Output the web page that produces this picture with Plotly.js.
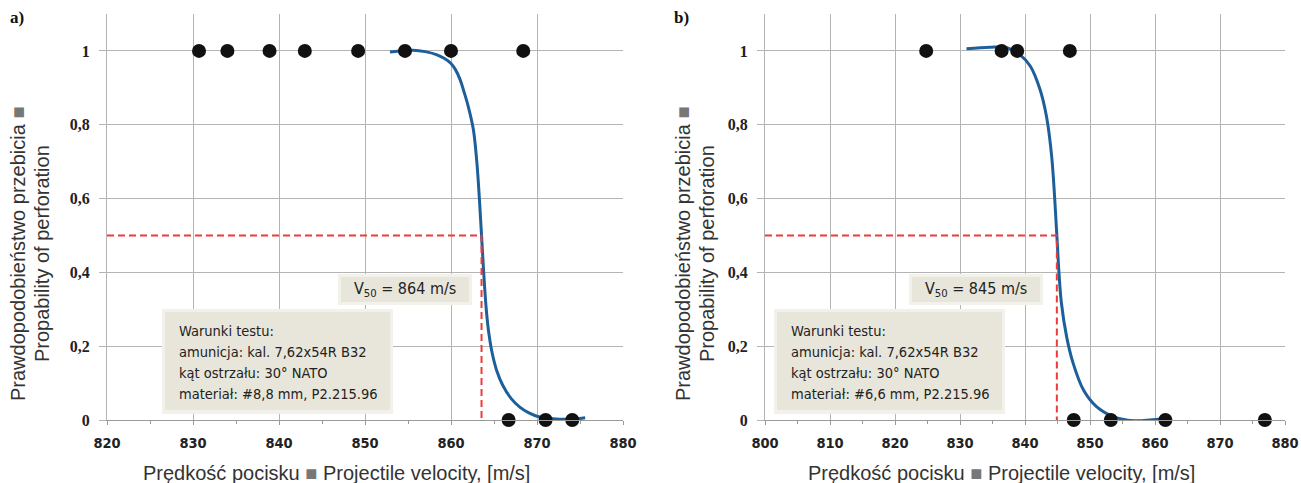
<!DOCTYPE html>
<html>
<head>
<meta charset="utf-8">
<script src="https://cdn.plot.ly/plotly-3.0.1.min.js"></script>
<style>html,body{margin:0;padding:0;background:#fff;}#chart{width:1301px;height:483px;}</style>
</head>
<body>
<div id="chart"></div>
<script>
// ---- Panel a) data ----
const hitsAx = [830.7, 834.0, 838.9, 843.0, 849.2, 854.65, 860.0, 868.4];
const hitsAy = [1, 1, 1, 1, 1, 1, 1, 1];
const missAx = [866.7, 871.0, 874.1];
const missAy = [0, 0, 0];
const curveAx = [852.9, 854.0, 855.6, 857.0, 858.3, 859.2, 860.0, 860.5, 861.05, 861.5, 862.0, 862.6, 863.0, 863.3, 863.55, 863.8, 864.1, 864.4, 864.8, 865.3, 866.0, 867.0, 868.0, 869.0, 870.3, 872.6, 874.5, 875.6];
const curveAy = [0.997, 1.0, 1.002, 0.998, 0.99, 0.98, 0.966, 0.95, 0.923, 0.89, 0.85, 0.787, 0.70, 0.60, 0.50, 0.40, 0.30, 0.235, 0.18, 0.135, 0.095, 0.058, 0.035, 0.02, 0.008, 0.002, 0.003, 0.006];
const v50A = 863.55;
const v50LabelA = "V<sub>50</sub> = 864 m/s";
const condA = ["Warunki testu:", "amunicja: kal. 7,62x54R B32", "kąt ostrzału: 30° NATO", "materiał: #8,8 mm, P2.215.96"];

// ---- Panel b) data ----
const hitsBx = [824.8, 836.4, 838.8, 846.9];
const hitsBy = [1, 1, 1, 1];
const missBx = [847.5, 853.2, 861.6, 876.9];
const missBy = [0, 0, 0, 0];
const curveBx = [831.0, 834.6, 837.2, 839.2, 840.8, 842.3, 843.3, 844.1, 844.9, 845.2, 845.6, 846.4, 847.4, 849.0, 851.0, 853.6, 856.7, 859.2, 861.5];
const curveBy = [1.006, 1.01, 1.009, 0.99, 0.959, 0.896, 0.823, 0.715, 0.50, 0.407, 0.317, 0.226, 0.154, 0.081, 0.036, 0.009, -0.002, 0.0, 0.005];
const v50B = 844.9;
const v50LabelB = "V<sub>50</sub> = 845 m/s";
const condB = ["Warunki testu:", "amunicja: kal. 7,62x54R B32", "kąt ostrzału: 30° NATO", "materiał: #6,6 mm, P2.215.96"];

// ---- axes / labels ----
const rangeA = [820, 880];
const rangeB = [800, 880];
const yTicks = [0, 0.2, 0.4, 0.6, 0.8, 1];
const xTitle = "Prędkość pocisku <span style='color:#777'>■</span> Projectile velocity, [m/s]";
const yTitle1 = "Prawdopodobieństwo przebicia <span style='color:#777'>■</span>";
const yTitle2 = "Propability of perforation";

const W = 1301, H = 483;
const px = v => v / W, py = v => 1 - v / H;

const narrow = "DejaVu Sans Condensed, Liberation Sans Narrow, Arial Narrow, sans-serif";
const sans = "Liberation Sans, Arial, sans-serif";
const curveColor = "#1d5f9a";
const red = "#f03a3a";
const boxFill = "#e8e6da";
const boxHalo = "#f2f1ea";

function panel(xa, ya, hx, hy, mx, my, cx, cy, v50, xmin) {
  return [
    {x: cx, y: cy, xaxis: xa, yaxis: ya, type: "scatter", mode: "lines",
     line: {color: curveColor, width: 3, shape: "spline", smoothing: 1}, hoverinfo: "skip"},
    {x: [xmin, v50, v50], y: [0.5, 0.5, 0], xaxis: xa, yaxis: ya, type: "scatter", mode: "lines",
     line: {color: red, width: 2, dash: "7px,4px"}, hoverinfo: "skip"},
    {x: hx.concat(mx), y: hy.concat(my), xaxis: xa, yaxis: ya, type: "scatter", mode: "markers",
     marker: {color: "#111", size: 14}, cliponaxis: false}
  ];
}

const data = [].concat(
  panel("x", "y", hitsAx, hitsAy, missAx, missAy, curveAx, curveAy, v50A, rangeA[0]),
  panel("x2", "y2", hitsBx, hitsBy, missBx, missBy, curveBx, curveBy, v50B, rangeB[0])
);

const gridC = "#b4b4b4";
function xaxis(range, dom, anchor) {
  return {range: range, domain: dom, anchor: anchor, dtick: 10, tick0: 800, showgrid: true, gridcolor: gridC, gridwidth: 1,
    zeroline: false, showline: true, linecolor: "#9a9a9a", linewidth: 1,
    ticks: "outside", ticklen: 4, tickcolor: "#9a9a9a", ticklabelstandoff: 6,
    minor: {dtick: 5, ticks: "outside", ticklen: 3, tickcolor: "#9a9a9a", showgrid: false},
    tickfont: {family: narrow, size: 14.5, color: "#222", weight: "bold"}, fixedrange: true};
}
function yaxis(anchor) {
  return {range: [0, 1.1], domain: [py(420), py(14)], tickvals: yTicks, showgrid: true, gridcolor: gridC,
    zeroline: false, showline: true, linecolor: gridC, anchor: anchor,
    ticks: "outside", ticklen: 7, tickcolor: gridC, ticklabelstandoff: 6,
    tickfont: {family: "Liberation Serif, DejaVu Serif, serif", size: 16, color: "#222", weight: "bold"}, fixedrange: true};
}

const shapes = [];
const annotations = [];
function rect(x0, y0, x1, y1, fill) {
  shapes.push({type: "rect", xref: "paper", yref: "paper", x0: px(x0), x1: px(x1), y0: py(y1), y1: py(y0),
    fillcolor: fill, line: {width: 0}, layer: "above"});
}
function label(x, y, text, font, xanchor) {
  annotations.push({xref: "paper", yref: "paper", x: px(x), y: py(y), xanchor: xanchor || "left", yanchor: "middle",
    text: text, showarrow: false, font: font});
}
function boxes(condLeft, v50cx, cond, v50Label) {
  rect(v50cx - 67, 274, v50cx + 67, 305, boxHalo);
  rect(v50cx - 64, 277, v50cx + 64, 302, boxFill);
  label(v50cx, 289, v50Label, {family: narrow, size: 16, color: "#222"}, "center");
  rect(condLeft - 3, 309, condLeft + 228, 414, boxHalo);
  rect(condLeft, 312, condLeft + 225, 410, boxFill);
  const lineY = [331, 352, 373, 394];
  cond.forEach((t, i) => label(condLeft + 12, lineY[i], t, {family: narrow, size: 14.5, color: "#222"}, "left"));
}
boxes(165, 405, condA, v50LabelA);
boxes(777, 976, condB, v50LabelB);

const serifB = {family: "Liberation Serif, serif", size: 17, color: "#111", weight: "bold"};
label(8, 18, "a)", serifB);
label(672, 18, "b)", serifB);
const titleFont = {family: sans, size: 20, color: "#333"};
label(336, 473, xTitle, titleFont, "center");
label(1002, 473, xTitle, titleFont, "center");
function ytitle(x, y, text) {
  annotations.push({xref: "paper", yref: "paper", x: px(x), y: py(y), xanchor: "center", yanchor: "middle",
    text: text, textangle: -90, showarrow: false, font: titleFont});
}
ytitle(18, 254, yTitle1);
ytitle(42, 254, yTitle2);
ytitle(683, 254, yTitle1);
ytitle(707, 254, yTitle2);

const layout = {
  width: W, height: H, margin: {l: 0, r: 0, t: 0, b: 0},
  paper_bgcolor: "#fff", plot_bgcolor: "#fff", showlegend: false, separators: ", ",
  xaxis: xaxis(rangeA, [px(107), px(623)], "y"),
  yaxis: yaxis("x"),
  xaxis2: xaxis(rangeB, [px(765), px(1285)], "y2"),
  yaxis2: yaxis("x2"),
  shapes: shapes,
  annotations: annotations
};

Plotly.newPlot("chart", data, layout, {displayModeBar: false, staticPlot: true});
</script>
</body>
</html>
